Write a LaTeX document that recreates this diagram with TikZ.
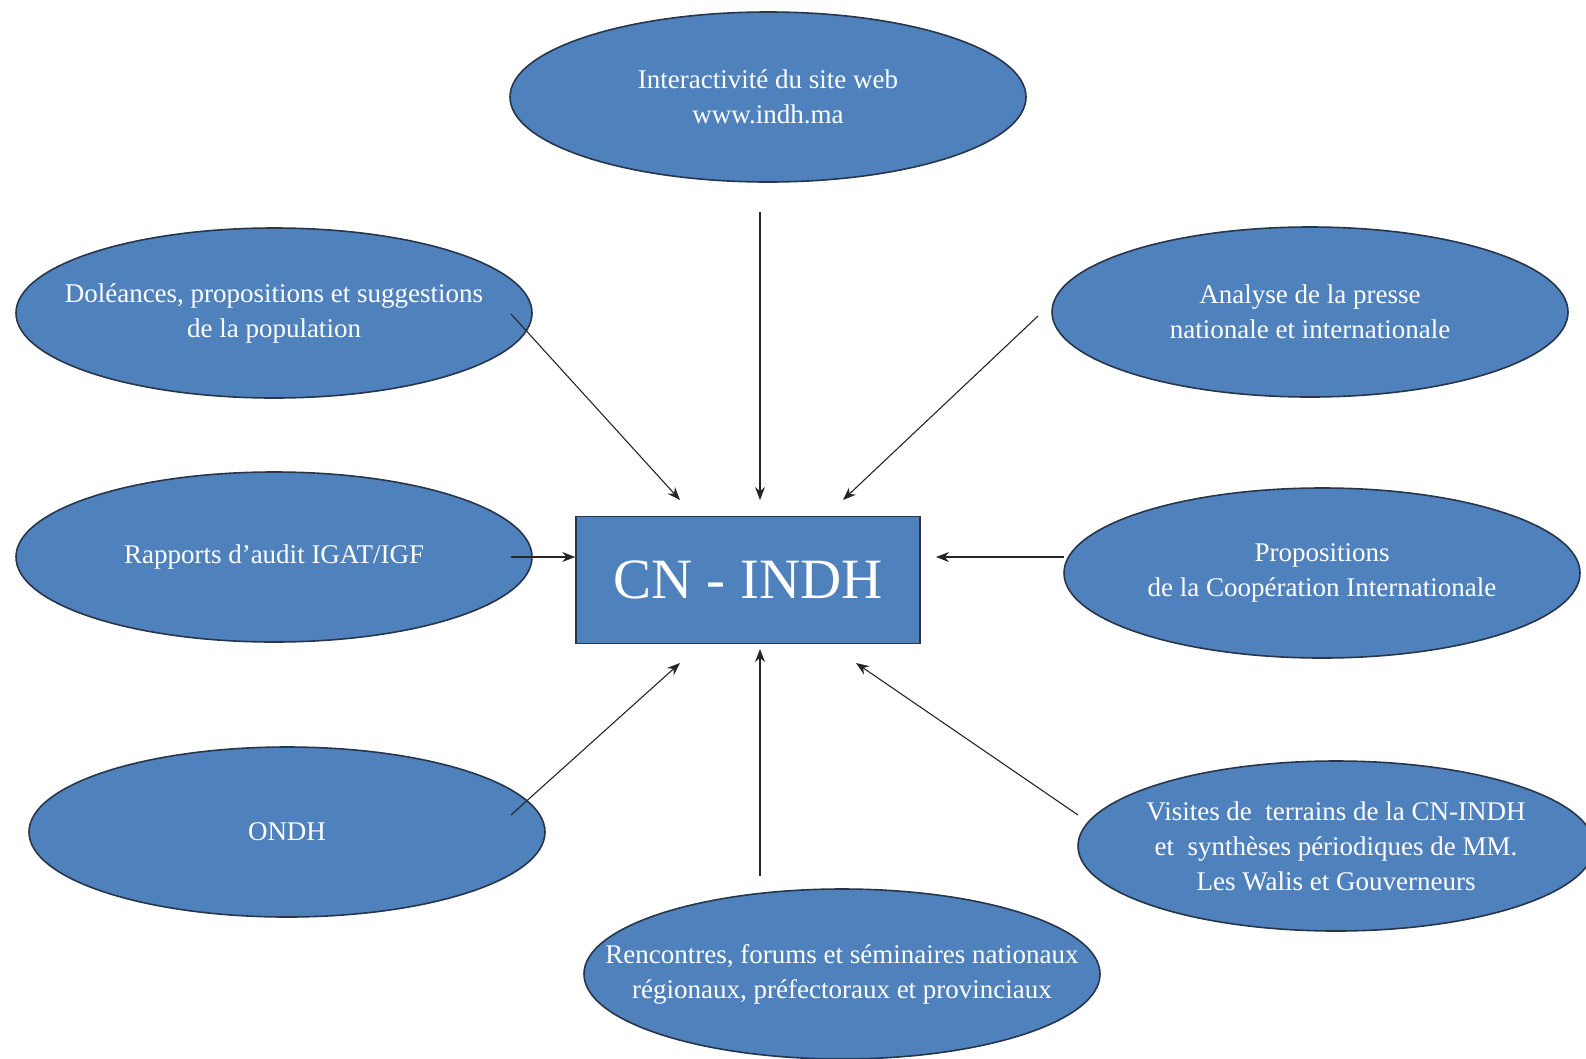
\documentclass[tikz,border=0pt]{standalone}
\usepackage{fontspec}
\setmainfont{Liberation Serif}
\usetikzlibrary{shapes.geometric,arrows.meta}
\definecolor{bleu}{HTML}{4F81BD}
\definecolor{bord}{HTML}{27364A}

\begin{document}
\begin{tikzpicture}
[x=1pt, y=-1pt,
 bulle/.style={ellipse, draw=bord, line width=1.6pt, fill=bleu, text=white, inner sep=-80pt,
   minimum width=516pt, minimum height=170pt, align=center,
   font=\fontsize{27}{35}\selectfont},
 centre/.style={rectangle, draw=bord, line width=1.6pt, fill=bleu, text=white, inner sep=0,
   minimum width=344pt, minimum height=127pt, font=\fontsize{57}{60}\selectfont},
 fleche/.style={-{Stealth[length=13pt,width=10pt]}, line width=1.1pt, black!85}]
\useasboundingbox (0,0) rectangle (1586,1058);
\node [centre] (cn) at (748,580) {CN - INDH};
\node [bulle] (web)  at (768,97)   {Interactivité du site web\\www.indh.ma};
\node [bulle] (dol)  at (274,313)  {Doléances, propositions et suggestions\\de la population};
\node [bulle] (pres) at (1310,312) {Analyse de la presse\\nationale et internationale};
\node [bulle] (aud)  at (274,557)  {Rapports d’audit IGAT/IGF};
\node [bulle] (coop) at (1322,573) {Propositions\\de la Coopération Internationale};
\node [bulle] (ondh) at (287,832)  {ONDH};
\node [bulle] (vis)  at (1336,846) {Visites de\ \ terrains de la CN-INDH\\et\ \ synthèses périodiques de MM.\\Les Walis et Gouverneurs};
\node [bulle] (renc) at (842,974)  {Rencontres, forums et séminaires nationaux\\régionaux, préfectoraux et provinciaux};
% free ends of the arrows
\coordinate (web-s)  at (760,212);  \coordinate (web-e)  at (760,500);
\coordinate (dol-s)  at (511,314);  \coordinate (dol-e)  at (680,500);
\coordinate (pres-s) at (1038,316); \coordinate (pres-e) at (843,500);
\coordinate (aud-s)  at (511,557);  \coordinate (aud-e)  at (cn.west |- aud-s);
\coordinate (coop-s) at (1064,557); \coordinate (coop-e) at (936,557);
\coordinate (ondh-s) at (511,815);  \coordinate (ondh-e) at (680,663);
\coordinate (renc-s) at (760,876);  \coordinate (renc-e) at (760,649);
\coordinate (vis-s)  at (1078,815); \coordinate (vis-e)  at (856,663);
\foreach \src in {web, dol, pres, aud, coop, ondh, renc, vis}
  \draw[fleche] (\src-s) -- (\src-e);
\end{tikzpicture}
\end{document}
